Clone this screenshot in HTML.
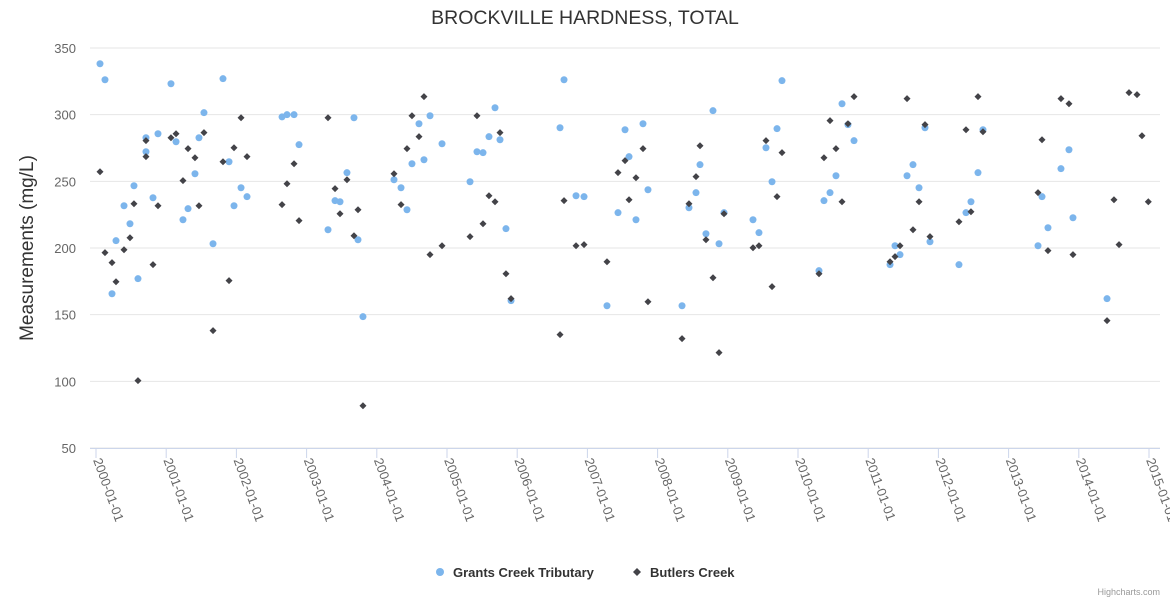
<!DOCTYPE html>
<html><head><meta charset="utf-8"><style>
body{margin:0;background:#fff;}
svg{font-family:"Liberation Sans",sans-serif;display:block;}
</style></head><body>
<svg id="chart" width="1170" height="600">
<text x="585" y="24" text-anchor="middle" font-size="19.5" fill="#333">BROCKVILLE HARDNESS, TOTAL</text>
<text transform="translate(33,248) rotate(-90)" text-anchor="middle" font-size="19" fill="#333">Measurements (mg/L)</text>
<g id="grid"></g><g id="xaxis"></g><g id="marks"></g>
<g>
<g><circle cx="440" cy="572" r="4" fill="#7cb5ec"/><text x="453" y="577" font-size="13" font-weight="bold" fill="#333">Grants Creek Tributary</text></g>
<g><path d="M637 568 L641 572 L637 576 L633 572 Z" fill="#434348"/><text x="650" y="577" font-size="13" font-weight="bold" fill="#333">Butlers Creek</text></g>
</g>
<text x="1160" y="595" text-anchor="end" font-size="9" fill="#999">Highcharts.com</text>
</svg>
<script>
const yTicks=[50,100,150,200,250,300,350];
const xTickYears=[2000,2001,2002,2003,2004,2005,2006,2007,2008,2009,2010,2011,2012,2013,2014,2015];
const grantsX=[.057,.128,.228,.285,.399,.484,.541,.598,.712,.712,.812,.883,1.068,1.14,1.239,1.311,1.41,1.467,1.538,1.667,1.809,1.895,1.966,2.066,2.151,2.65,2.721,2.821,2.892,3.305,3.405,3.476,3.575,3.675,3.732,3.803,4.245,4.345,4.43,4.501,4.601,4.672,4.758,4.929,5.328,5.427,5.513,5.598,5.684,5.755,5.84,5.912,6.61,6.667,6.838,6.952,7.279,7.436,7.536,7.593,7.692,7.792,7.863,8.348,8.447,8.547,8.604,8.689,8.789,8.875,8.946,9.359,9.444,9.544,9.63,9.701,9.772,10.299,10.37,10.456,10.541,10.627,10.712,10.798,11.311,11.382,11.453,11.553,11.638,11.724,11.809,11.88,12.293,12.393,12.464,12.564,12.635,13.419,13.476,13.561,13.746,13.86,13.917,14.402];
const grantsY=[338.2,326.2,165.7,205.5,231.7,218.2,246.7,177,282.7,272.2,237.7,285.7,323.2,279.7,221.2,229.5,255.7,282.7,301.5,203.2,327,264.7,231.7,245.2,238.5,298.3,300,300,277.5,213.7,235.5,234.7,256.5,297.7,206.2,148.5,251.2,245.2,228.7,263.2,293.2,266.2,299.2,278.2,249.7,272.2,271.5,283.5,305.2,281.2,214.5,160.5,290.2,326.2,239.2,238.5,156.7,226.5,288.7,268.5,221.2,293.2,243.7,156.7,230.2,241.5,262.5,210.7,303,203.2,226.5,221.2,211.5,275.2,249.7,289.5,325.5,183,235.5,241.5,254.2,308.2,292.5,280.5,187.5,201.7,195,254.2,262.5,245.2,290.2,204.7,187.5,226.5,234.7,256.5,288.7,201.7,238.5,215.2,259.5,273.7,222.7,162];
const butlersX=[.057,.128,.228,.285,.399,.484,.541,.598,.712,.712,.812,.883,1.068,1.14,1.239,1.311,1.41,1.467,1.538,1.667,1.809,1.895,1.966,2.066,2.151,2.65,2.721,2.821,2.892,3.305,3.405,3.476,3.575,3.675,3.732,3.803,4.245,4.345,4.43,4.501,4.601,4.672,4.758,4.929,5.328,5.427,5.513,5.598,5.684,5.755,5.84,5.912,6.61,6.667,6.838,6.952,7.279,7.436,7.536,7.593,7.692,7.792,7.863,8.348,8.447,8.547,8.604,8.689,8.789,8.875,8.946,9.359,9.444,9.544,9.63,9.701,9.772,10.299,10.37,10.456,10.541,10.627,10.712,10.798,11.311,11.382,11.453,11.553,11.638,11.724,11.809,11.88,12.293,12.393,12.464,12.564,12.635,13.419,13.476,13.561,13.746,13.86,13.917,14.402,14.501,14.573,14.715,14.829,14.9,14.99];
const butlersY=[257.2,196.5,189,174.7,198.7,207.7,233.2,100.5,280.5,268.5,187.5,231.7,282.7,285.7,250.5,274.5,267.7,231.7,286.5,138,264.7,175.5,275.2,297.7,268.5,232.5,248.2,263.2,220.5,297.7,244.5,225.7,251.2,209.2,228.7,81.7,255.7,232.5,274.5,299.2,283.5,313.5,195,201.7,208.5,299.2,218.2,239.2,234.7,286.5,180.7,162,135,235.5,201.7,202.5,189.7,256.5,265.5,236.2,252.7,274.5,159.7,132,233.2,253.5,276.7,206.2,177.7,121.5,225.7,200.2,201.7,280.5,171,238.5,271.5,180.7,267.7,295.5,274.5,234.7,293.2,313.5,189.7,193.5,201.7,312,213.7,234.7,292.5,208.5,219.7,288.7,227.2,313.5,287.2,241.5,281.2,198,312,308.2,195,145.5,236.2,202.5,316.5,315,284.2,234.7];

const NS='http://www.w3.org/2000/svg';
const L=90,R=1160,T=48,B=448;
const x=yr=>96+(yr-2000)*70.2;
const y=v=>B-(v-50)*(B-T)/300;
function mk(tag,attrs,parent){const e=document.createElementNS(NS,tag);for(const k in attrs)e.setAttribute(k,attrs[k]);parent.appendChild(e);return e;}
const grid=document.getElementById('grid'),xa=document.getElementById('xaxis'),marks=document.getElementById('marks');
yTicks.forEach(t=>{
  const ln=mk('line',{x1:L,x2:R,y1:y(t),y2:y(t),stroke:'#e6e6e6'},grid);
  
  
  const tx=mk('text',{x:76,y:y(t)+5,'text-anchor':'end','font-size':13,fill:'#666'},grid);
  tx.textContent=t;
  
  
});
const axl=mk('line',{x1:L,x2:R,y1:B+0.5,y2:B+0.5,stroke:'#ccd6eb'},xa);


xTickYears.forEach(yr=>{
  const px=x(yr);
  const tk=mk('line',{x1:px,x2:px,y1:B,y2:B+10,stroke:'#ccd6eb'},xa);
  
  
  const tx=mk('text',{transform:`translate(${px-3},${B+12}) rotate(70)`,'font-size':13,fill:'#666'},xa);
  tx.textContent=yr+'-01-01';
  
  
});
grantsX.forEach((d,i)=>{
  const c=mk('circle',{cx:x(2000+d),cy:y(grantsY[i]),r:3.5,fill:'#7cb5ec'},marks);
  
  
});
butlersX.forEach((d,i)=>{
  const px=x(2000+d),py=y(butlersY[i]);
  const p=mk('path',{d:`M${px} ${py-3.5}L${px+3.5} ${py}L${px} ${py+3.5}L${px-3.5} ${py}Z`,fill:'#434348'},marks);
  
  
});
</script>
</body></html>
